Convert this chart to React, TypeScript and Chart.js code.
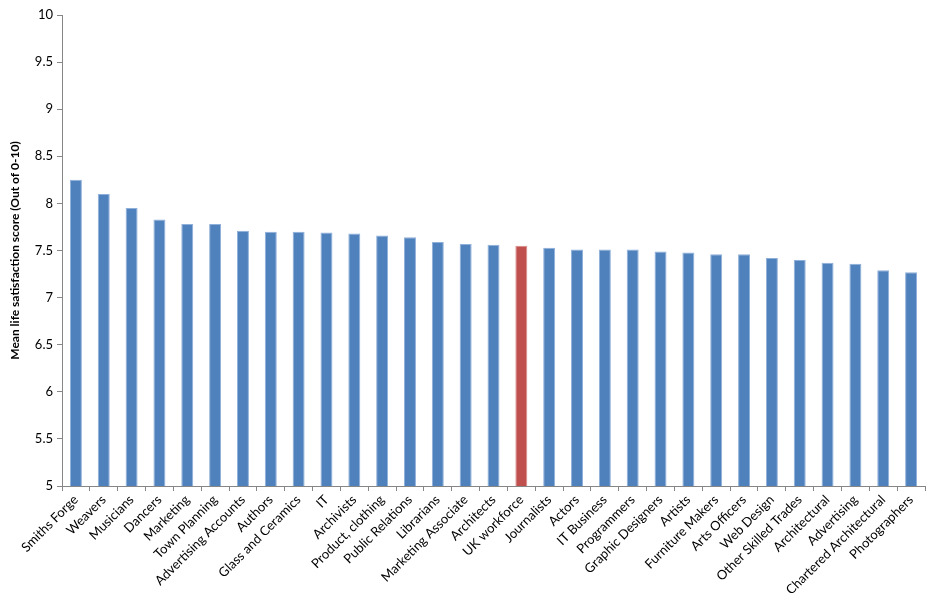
import React, { useEffect, useRef } from 'react';
import { Chart, registerables } from 'chart.js';

Chart.register(...registerables);

const occupations = [
    'Smiths Forge', 'Weavers', 'Musicians', 'Dancers', 'Marketing', 'Town Planning',
    'Advertising Accounts', 'Authors', 'Glass and Ceramics', 'IT', 'Archivists',
    'Product, clothing', 'Public Relations', 'Librarians', 'Marketing Associate',
    'Architects', 'UK workforce', 'Journalists', 'Actors', 'IT Business', 'Programmers',
    'Graphic Designers', 'Artists', 'Furniture Makers', 'Arts Officers', 'Web Design',
    'Other Skilled Trades', 'Architectural', 'Advertising', 'Chartered Architectural',
    'Photographers',
];

const satisfaction = [
    8.25, 8.10, 7.95, 7.83, 7.78, 7.78, 7.71, 7.70, 7.70, 7.69, 7.68,
    7.66, 7.64, 7.59, 7.57, 7.56, 7.55, 7.53, 7.51, 7.51, 7.51, 7.49,
    7.48, 7.46, 7.46, 7.42, 7.40, 7.37, 7.36, 7.29, 7.27,
];

const highlight = 'UK workforce';

const FONT = 'Lato, "Open Sans", sans-serif';

const App: React.FC = () => {
    const canvasRef = useRef<HTMLCanvasElement>(null);
    const chartRef = useRef<Chart | null>(null);

    useEffect(() => {
        document.body.style.margin = '0';
        if (!canvasRef.current) return;
        if (chartRef.current) chartRef.current.destroy();

        chartRef.current = new Chart(canvasRef.current, {
            type: 'bar',
            data: {
                labels: occupations,
                datasets: [{
                    data: satisfaction,
                    backgroundColor: occupations.map(o => (o === highlight ? '#C0504D' : '#4F81BD')),
                    borderColor: occupations.map(o => (o === highlight ? '#D88A88' : '#8FB0DA')),
                    borderWidth: { top: 1, left: 1, right: 1, bottom: 0 },
                    categoryPercentage: 1,
                    barPercentage: 0.43,
                }],
            },
            options: {
                animation: false,
                responsive: false,
                maintainAspectRatio: false,
                layout: { padding: { top: 15, right: 14, left: 0, bottom: 0 } },
                plugins: {
                    legend: { display: false },
                    tooltip: { enabled: false },
                },
                scales: {
                    x: {
                        offset: true,
                        afterFit: (scale: any) => { scale.height = 129; },
                        grid: {
                            display: true,
                            offset: true,
                            drawOnChartArea: false,
                            tickLength: 5,
                            color: '#868686',
                        },
                        border: { color: '#868686' },
                        ticks: {
                            autoSkip: false,
                            minRotation: 45,
                            maxRotation: 45,
                            padding: 1,
                            color: '#000000',
                            font: { family: FONT, size: 13 },
                        },
                    },
                    y: {
                        min: 5,
                        max: 10,
                        afterFit: (scale: any) => { scale.width = 62; },
                        grid: {
                            display: true,
                            drawOnChartArea: false,
                            tickLength: 5,
                            color: '#868686',
                        },
                        border: { color: '#868686' },
                        ticks: {
                            stepSize: 0.5,
                            padding: 4,
                            color: '#000000',
                            font: { family: FONT, size: 13 },
                            callback: (v: any) => String(Number(v)),
                        },
                        title: {
                            display: true,
                            text: 'Mean life satisfaction score (Out of 0-10)',
                            color: '#000000',
                            font: { family: FONT, size: 12, weight: 'bold' },
                            padding: { top: 8, bottom: 4 },
                        },
                    },
                },
            },
        });

        return () => {
            if (chartRef.current) chartRef.current.destroy();
            chartRef.current = null;
        };
    }, []);

    return (
        <div style={{ width: 939, height: 615, background: '#ffffff' }}>
            <canvas ref={canvasRef} width={939} height={615}></canvas>
        </div>
    );
};

export default App;
